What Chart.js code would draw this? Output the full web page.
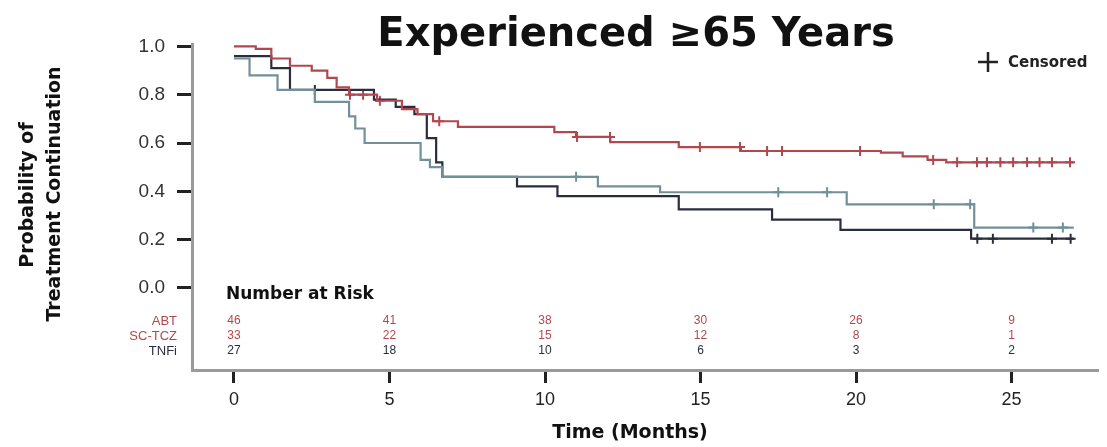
<!DOCTYPE html>
<html>
<head>
<meta charset="utf-8">
<title>Treatment continuation, experienced ≥65 years</title>
<script src="https://cdn.jsdelivr.net/npm/chart.js@4.4.1/dist/chart.umd.min.js"></script>
<style>
  html, body { margin: 0; padding: 0; background: #ffffff; }
  #wrap { width: 1107px; height: 447px; }
</style>
</head>
<body>
<div id="wrap"><canvas id="km" width="1107" height="447"></canvas></div>
<script>
// Kaplan–Meier step data: time of each step (months) and survival after it
const abtTimes  = [0, 0.7, 1.2, 1.8, 2.5, 3.0, 3.3, 3.7, 4.6, 5.4, 5.9, 6.4, 7.2, 10.3, 11.0, 12.1, 14.3, 16.3, 20.8, 21.5, 22.3, 22.9, 27.0];
const abtProb   = [1.0, 0.99, 0.95, 0.92, 0.90, 0.87, 0.83, 0.80, 0.775, 0.74, 0.72, 0.69, 0.667, 0.645, 0.625, 0.604, 0.583, 0.567, 0.56, 0.545, 0.53, 0.52, 0.52];
const abtCensor = [3.73, 4.15, 4.69, 6.6, 11.03, 12.09, 14.98, 16.27, 17.14, 17.62, 20.13, 22.48, 23.25, 23.89, 24.21, 24.64, 25.05, 25.5, 25.9, 26.3, 26.88];

const tczTimes  = [0, 0.5, 1.4, 2.6, 3.7, 3.9, 4.2, 6.0, 6.3, 6.7, 11.7, 13.7, 19.7, 23.8, 27.0];
const tczProb   = [0.95, 0.88, 0.82, 0.77, 0.71, 0.66, 0.60, 0.53, 0.50, 0.46, 0.42, 0.396, 0.346, 0.25, 0.25];
const tczCensor = [11.0, 17.5, 19.07, 22.5, 23.67, 25.7, 26.65];

const tnfTimes  = [0, 1.2, 1.8, 4.5, 5.2, 5.8, 6.2, 6.5, 6.7, 9.1, 10.4, 14.3, 17.3, 19.5, 23.7, 27.0];
const tnfProb   = [0.96, 0.91, 0.82, 0.78, 0.75, 0.72, 0.62, 0.52, 0.46, 0.42, 0.38, 0.325, 0.283, 0.24, 0.204, 0.204];
const tnfCensor = [2.6, 23.9, 24.4, 26.3, 26.9];

// Number-at-risk table
const riskTimes  = [0, 5, 10, 15, 20, 25];
const riskLabels = ['ABT', 'SC-TCZ', 'TNFi'];
const riskAbt = [46, 41, 38, 30, 26, 9];
const riskTcz = [33, 22, 15, 12, 8, 1];
const riskTnf = [27, 18, 10, 6, 3, 2];

const xTicks = [0, 5, 10, 15, 20, 25];
const yTicks = [0, 0.2, 0.4, 0.6, 0.8, 1.0];

const COL_ABT = '#b2474f';
const COL_TCZ = '#71909a';
const COL_TNF = '#2a2d3e';
const FONT = '"Liberation Sans", Arial, Helvetica, sans-serif';
const WIDE = '"DejaVu Sans", Verdana, sans-serif';

function steps(times, probs) {
  return times.map((t, i) => ({ x: t, y: probs[i] }));
}
// level of a step curve at time t (places each censor tick on its own curve)
function levelAt(times, probs, t) {
  let v = probs[0];
  for (let i = 0; i < times.length; i++) { if (times[i] <= t) v = probs[i]; }
  return v;
}
function censorPts(cens, times, probs) {
  return cens.map(t => ({ x: t, y: levelAt(times, probs, t) }));
}

const lineDs = (label, times, probs, color) => ({
  label, data: steps(times, probs), borderColor: color, backgroundColor: color,
  borderWidth: 2.2, stepped: 'before', pointRadius: 0, fill: false
});
const censDs = (label, cens, times, probs, color) => ({
  label, data: censorPts(cens, times, probs), showLine: false,
  pointStyle: 'cross', pointRadius: 5, pointBorderWidth: 2,
  borderColor: color, backgroundColor: color
});

const decorations = {
  id: 'decorations',
  afterDraw(chart) {
    const { ctx, chartArea, scales } = chart;
    const xs = scales.x;
    ctx.save();

    // title
    ctx.fillStyle = '#111';
    ctx.font = 'bold 40px ' + WIDE;
    ctx.textAlign = 'center';
    ctx.textBaseline = 'alphabetic';
    ctx.fillText('Experienced \u226565 Years', 636, 46);

    // legend
    ctx.strokeStyle = '#222';
    ctx.lineWidth = 2.5;
    ctx.beginPath();
    ctx.moveTo(978, 62); ctx.lineTo(998, 62);
    ctx.moveTo(988, 52); ctx.lineTo(988, 72);
    ctx.stroke();
    ctx.fillStyle = '#222';
    ctx.font = 'bold 15px ' + WIDE;
    ctx.textAlign = 'left';
    ctx.textBaseline = 'middle';
    ctx.fillText('Censored', 1008, 63);

    // y axis title
    ctx.save();
    ctx.rotate(-Math.PI / 2);
    ctx.font = 'bold 19px ' + WIDE;
    ctx.fillStyle = '#111';
    ctx.textAlign = 'center';
    ctx.textBaseline = 'middle';
    ctx.fillText('Probability of', -195, 28);
    ctx.fillText('Treatment Continuation', -194, 55);
    ctx.restore();

    // x axis title
    ctx.font = 'bold 19px ' + WIDE;
    ctx.fillStyle = '#111';
    ctx.textAlign = 'center';
    ctx.textBaseline = 'middle';
    ctx.fillText('Time (Months)', 630, 433);

    // number at risk
    ctx.font = 'bold 17px ' + WIDE;
    ctx.textAlign = 'left';
    ctx.fillStyle = '#111';
    ctx.fillText('Number at Risk', 226, 295);

    const rows = [riskAbt, riskTcz, riskTnf];
    const colors = [COL_ABT, COL_ABT, COL_TNF];
    const rowY = [chartArea.bottom - 49, chartArea.bottom - 34, chartArea.bottom - 19];
    rows.forEach((row, r) => {
      ctx.fillStyle = colors[r];
      ctx.font = '13px ' + FONT;
      ctx.textAlign = 'right';
      ctx.fillText(riskLabels[r], 177, rowY[r]);
      ctx.font = '12px ' + FONT;
      ctx.textAlign = 'center';
      row.forEach((n, i) => ctx.fillText(String(n), xs.getPixelForValue(riskTimes[i]), rowY[r]));
    });
    ctx.restore();
  }
};

new Chart(document.getElementById('km'), {
  type: 'line',
  data: {
    datasets: [
      lineDs('ABT', abtTimes, abtProb, COL_ABT),
      lineDs('SC-TCZ', tczTimes, tczProb, COL_TCZ),
      lineDs('TNFi', tnfTimes, tnfProb, COL_TNF),
      censDs('ABT censored', abtCensor, abtTimes, abtProb, COL_ABT),
      censDs('SC-TCZ censored', tczCensor, tczTimes, tczProb, COL_TCZ),
      censDs('TNFi censored', tnfCensor, tnfTimes, tnfProb, COL_TNF)
    ]
  },
  options: {
    responsive: false,
    animation: false,
    devicePixelRatio: 1,
    layout: { padding: { top: 44, right: 9, left: 0, bottom: 0 } },
    plugins: { legend: { display: false }, tooltip: { enabled: false }, title: { display: false } },
    scales: {
      x: {
        type: 'linear', min: -1.35, max: 27.78,
        afterBuildTicks: s => { s.ticks = xTicks.map(v => ({ value: v })); },
        afterFit: s => { s.height = 77; },
        ticks: { color: '#222', font: { family: FONT, size: 18 }, padding: 6, callback: v => String(v) },
        grid: { drawOnChartArea: false, drawTicks: true, tickLength: 13, tickColor: '#222', tickWidth: 3 },
        border: { display: true, color: '#9a9a9a', width: 3 }
      },
      y: {
        type: 'linear', min: -0.34, max: 1.01,
        afterBuildTicks: s => { s.ticks = yTicks.map(v => ({ value: v })); },
        afterFit: s => { s.width = 192; },
        ticks: { color: '#333', font: { family: FONT, size: 19 }, padding: 12, callback: v => Number(v).toFixed(1) },
        grid: { drawOnChartArea: false, drawTicks: true, tickLength: 15, tickColor: '#222', tickWidth: 3 },
        border: { display: true, color: '#9a9a9a', width: 3 }
      }
    }
  },
  plugins: [decorations]
});
</script>
</body>
</html>
